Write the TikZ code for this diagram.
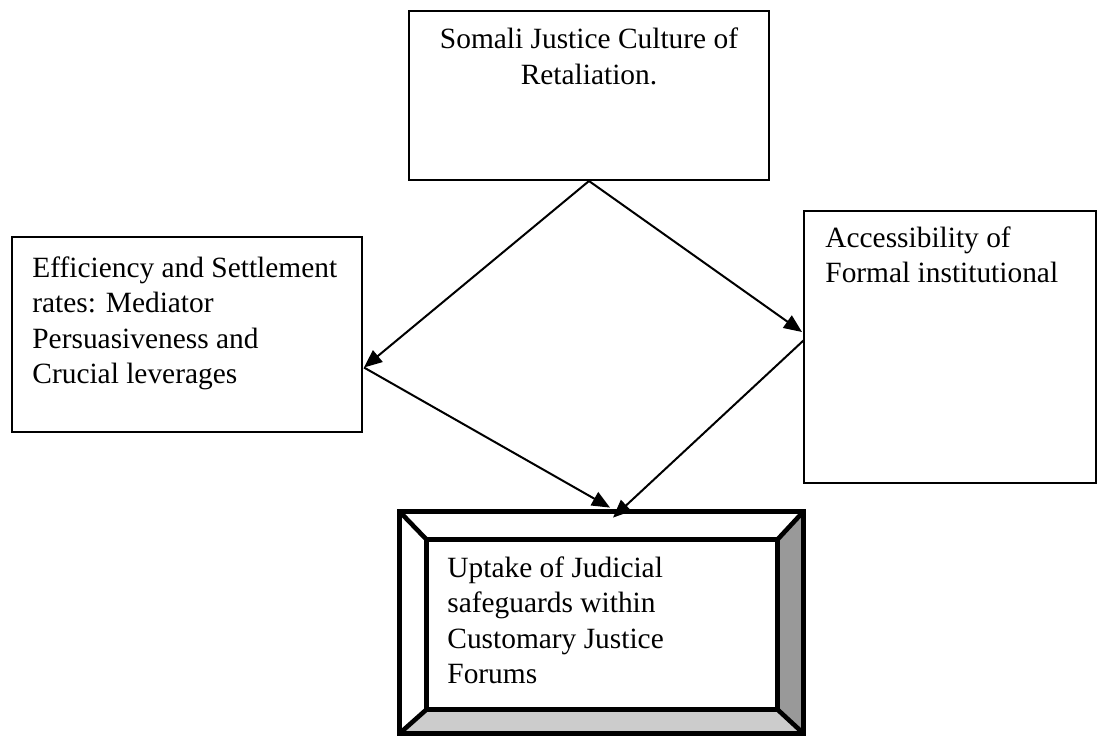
\documentclass[tikz,border=0pt]{standalone}
\usepackage{fontspec}
\setmainfont{Liberation Serif}
\usepackage{xcolor}
\usetikzlibrary{arrows.meta, calc, positioning}

\definecolor{bevdark}{HTML}{999999}
\definecolor{bevlight}{HTML}{CCCCCC}

\tikzset{
  box/.style={draw, line width=1pt, inner sep=0pt},
  frame/.style={shape=rectangle, inner sep=0pt},
  txt/.style={inner sep=0pt, font=\fontsize{14.7}{17.75}\selectfont},
  flow/.style={-{Triangle[length=9pt,width=7.5pt]}, line width=1pt},
  bevline/.style={line width=2.3pt, line join=miter},
}

\begin{document}
\begin{tikzpicture}[x=0.5pt, y=-0.5pt]
   \useasboundingbox (0,0) rectangle (1098,735);

   % boxes
   \node[box, minimum width=180pt, minimum height=84.5pt] (culture) at (589,95.5) {};
   \node[box, minimum width=175pt, minimum height=97.5pt] (efficiency) at (187,334.5) {};
   \node[box, minimum width=146pt, minimum height=136pt] (access) at (950,347) {};

   % bevelled box
   \node[frame, minimum width=201.5pt, minimum height=110.5pt] (uptake) at (601.5,622.5) {};
   \node[frame, minimum width=175pt, minimum height=84.5pt] (uptakein) at (602,624.5) {};
   \fill[bevdark] (uptake.north east) -- (uptake.south east) -- (uptakein.south east) -- (uptakein.north east) -- cycle;
   \fill[bevlight] (uptake.south west) -- (uptake.south east) -- (uptakein.south east) -- (uptakein.south west) -- cycle;
   \draw[bevline] (uptake.north west) rectangle (uptake.south east);
   \draw[bevline] (uptakein.north west) rectangle (uptakein.south east);
   \draw[bevline] (uptake.north west) -- (uptakein.north west);
   \draw[bevline] (uptake.north east) -- (uptakein.north east);
   \draw[bevline] (uptake.south west) -- (uptakein.south west);
   \draw[bevline] (uptake.south east) -- (uptakein.south east);

   % texts (base = last line)
   \node[txt, anchor=base, align=center] (culturetxt) at (589,84)
      {Somali Justice Culture of\\Retaliation.};
   \node[txt, anchor=base west, align=left] (efficiencytxt) at (32,383.5)
      {Efficiency and Settlement\\rates: Mediator\\Persuasiveness and\\Crucial leverages};
   \node[txt, anchor=base west, align=left] (accesstxt) at (825,282.5)
      {Accessibility of\\Formal institutional};
   \node[txt, anchor=base west, align=left] (uptaketxt) at (447,683.5)
      {Uptake of Judicial\\safeguards within\\Customary Justice\\Forums};

   % arrows
   \draw[flow] (culture.south) -- ($(efficiency.east)+(1,33)$);
   \draw[flow] ($(efficiency.east)+(1,33)$) -- ($(uptake.north)+(8.5,-4)$);
   \draw[flow] (culture.south) -- ($(access.west)+(-1,-15)$);
   \draw[flow] ($(access.west)+(1,-7)$) -- ($(uptake.north)+(11.5,6)$);
\end{tikzpicture}
\end{document}
